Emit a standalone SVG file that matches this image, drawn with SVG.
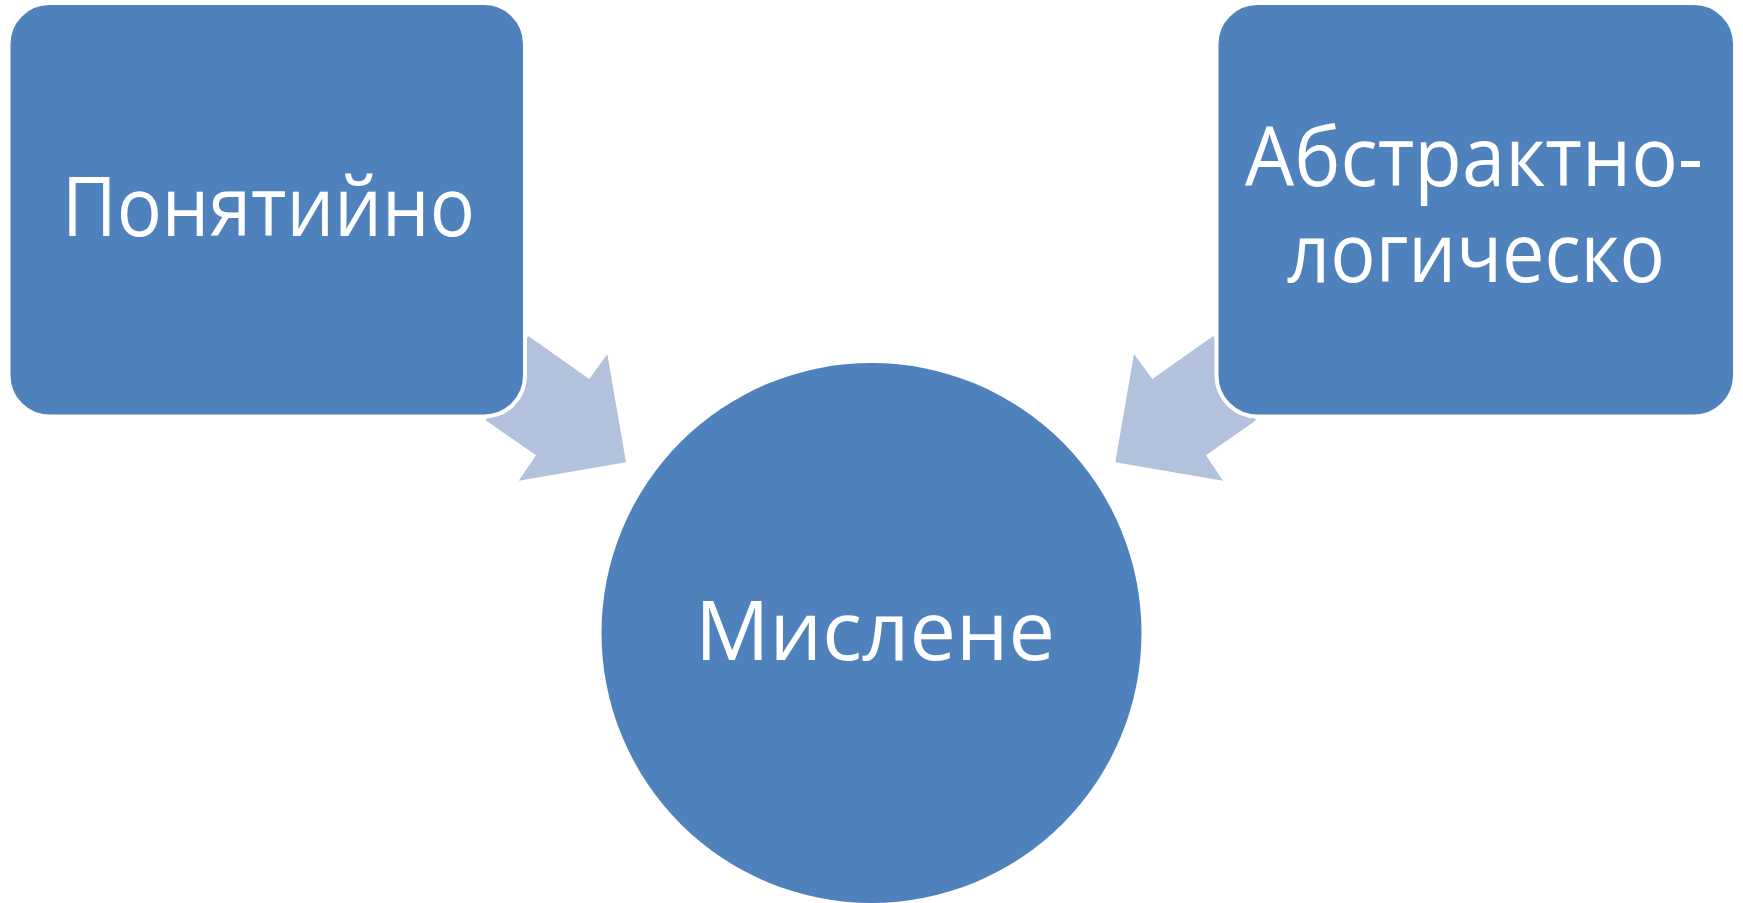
<svg xmlns="http://www.w3.org/2000/svg" width="1743" height="903" viewBox="0 0 1743 903">
  <style>
    .box { fill: #4F81BD; stroke: #FFFFFF; stroke-width: 4; }
    .arrow { fill: #B2C1DC; stroke: none; }
    .lbl { font-family: "Open Sans", "Noto Sans", "Liberation Sans", sans-serif; font-size: 82px; fill: #FFFFFF; text-anchor: middle; }
  </style>
  <rect width="1743" height="903" fill="#FFFFFF"/>
  <g id="connectors">
    <polygon class="arrow" points="528.3,336 589.3,379 607.3,354 626,462.3 518.7,480.7 536,455.3 485.7,420.3"/>
    <polygon class="arrow" points="1213.3,336 1152.3,379 1134,354 1115.3,462.3 1223,480.7 1206,455.3 1256,420.3"/>
  </g>
  <g id="node-ponyatiyno">
    <rect class="box" x="8.5" y="3" width="516.5" height="413.5" rx="41" ry="41"/>
    <text class="lbl" x="268.4" y="235.5" textLength="413" lengthAdjust="spacingAndGlyphs">Понятийно</text>
  </g>
  <g id="node-abstraktno">
    <rect class="box" x="1216.5" y="3" width="518.5" height="413.5" rx="41" ry="41"/>
    <text class="lbl"><tspan x="1474" y="186" textLength="458" lengthAdjust="spacingAndGlyphs">Абстрактно-</tspan><tspan x="1476" y="282" textLength="378" lengthAdjust="spacingAndGlyphs">логическо</tspan></text>
  </g>
  <g id="node-mislene">
    <circle cx="871.5" cy="633" r="270" fill="#4F81BD"/>
    <text class="lbl" x="875" y="660" textLength="360" lengthAdjust="spacingAndGlyphs">Мислене</text>
  </g>
</svg>
